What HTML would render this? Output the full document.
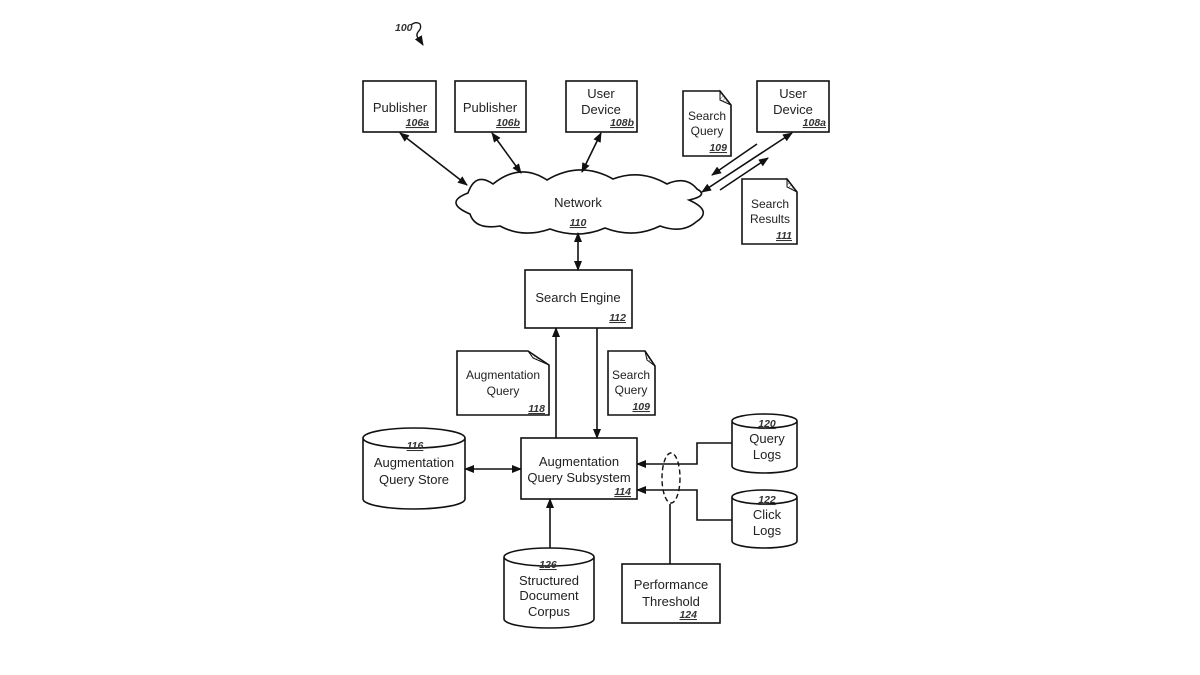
<!DOCTYPE html>
<html><head><meta charset="utf-8"><style>
html,body{margin:0;padding:0;background:#fff;}
svg{display:block;}
text{font-family:"Liberation Sans",Arial,sans-serif;fill:#222;}
.t{font-size:13px;text-anchor:middle;}
.s{font-size:12px;text-anchor:middle;}
.n{font-size:10.5px;font-style:italic;font-weight:bold;text-decoration:underline;fill:#333;}
</style></head><body>
<svg width="1200" height="675" viewBox="0 0 1200 675" xmlns="http://www.w3.org/2000/svg">
<defs>
<marker id="a" markerUnits="userSpaceOnUse" markerWidth="10" markerHeight="8" refX="9" refY="4" orient="auto-start-reverse">
<path d="M0,0 L10,4 L0,8 Z" fill="#111"/>
</marker>
<pattern id="h" patternUnits="userSpaceOnUse" width="3" height="3" patternTransform="rotate(45)">
<line x1="0" y1="0" x2="0" y2="3" stroke="#555" stroke-width="1"/>
</pattern>
</defs>
<g fill="none" stroke="#111" stroke-width="1.6">
<!-- 100 squiggle -->
<path d="M411,25 Q416,21 420,24 Q422,28 418,32 Q415,36 420,40 L423,45" stroke-width="1.3" marker-end="url(#a)"/>
<!-- top boxes -->
<rect x="363" y="81" width="73" height="51"/>
<rect x="455" y="81" width="71" height="51"/>
<rect x="566" y="81" width="71" height="51"/>
<rect x="757" y="81" width="72" height="51"/>
<!-- docs -->
<path d="M683,91 L720,91 L731,105 L731,156 L683,156 Z"/>
<path d="M720,91 L731,105 L720,100 Z" fill="url(#h)" stroke-width="1"/>
<path d="M742,179 L787,179 L797,192 L797,244 L742,244 Z"/>
<path d="M787,179 L797,192 L787,187 Z" fill="url(#h)" stroke-width="1"/>
<path d="M457,351 L528,351 L549,365 L549,415 L457,415 Z"/>
<path d="M528,351 L549,365 L533,358 Z" fill="url(#h)" stroke-width="1"/>
<path d="M608,351 L645,351 L655,366 L655,415 L608,415 Z"/>
<path d="M645,351 L655,366 L647,360 Z" fill="url(#h)" stroke-width="1"/>
<!-- cloud -->
<path d="M468,193 Q475.5,171.5 493,184 Q520,162 547,180 Q580,160.5 613,179 Q640,168.5 667,184 Q686,175.5 697,189 Q709,195.5 689,200 Q713.5,211 696,222 Q682,234 660,226 Q633.5,239 605,228 Q578.5,239.5 550,229 Q523,238.5 500,226 Q475,230 470,214 Q443,202.5 468,193 Z"/>
<!-- top arrows -->
<line x1="400" y1="133" x2="467" y2="185" marker-start="url(#a)" marker-end="url(#a)"/>
<line x1="492" y1="133" x2="521" y2="173" marker-start="url(#a)" marker-end="url(#a)"/>
<line x1="601" y1="133" x2="582" y2="172" marker-start="url(#a)" marker-end="url(#a)"/>
<line x1="792" y1="133" x2="702" y2="192" marker-start="url(#a)" marker-end="url(#a)"/>
<line x1="757" y1="144" x2="712" y2="175" marker-end="url(#a)"/>
<line x1="720" y1="190" x2="768" y2="158" marker-end="url(#a)"/>
<!-- search engine -->
<rect x="525" y="270" width="107" height="58"/>
<line x1="578" y1="233" x2="578" y2="270" marker-start="url(#a)" marker-end="url(#a)"/>
<line x1="556" y1="438" x2="556" y2="328" marker-end="url(#a)"/>
<line x1="597" y1="328" x2="597" y2="438" marker-end="url(#a)"/>
<!-- subsystem -->
<rect x="521" y="438" width="116" height="61"/>
<line x1="465" y1="469" x2="521" y2="469" marker-start="url(#a)" marker-end="url(#a)"/>
<polyline points="732,443 697,443 697,464 637,464" marker-end="url(#a)"/>
<polyline points="732,520 697,520 697,490 637,490" marker-end="url(#a)"/>
<line x1="550" y1="548" x2="550" y2="499" marker-end="url(#a)"/>
<line x1="670" y1="504" x2="670" y2="564"/>
<ellipse cx="671" cy="478" rx="9" ry="25" stroke-dasharray="5,3" stroke-width="1.4"/>
<rect x="622" y="564" width="98" height="59"/>
<!-- cylinders -->
<path d="M363,438 A51 10 0 0 1 465,438 A51 10 0 0 1 363,438 M363,438 L363,499 A51 10 0 0 0 465,499 L465,438"/>
<path d="M732,421 A32.5 7 0 0 1 797,421 A32.5 7 0 0 1 732,421 M732,421 L732,466 A32.5 7 0 0 0 797,466 L797,421"/>
<path d="M732,497 A32.5 7 0 0 1 797,497 A32.5 7 0 0 1 732,497 M732,497 L732,541 A32.5 7 0 0 0 797,541 L797,497"/>
<path d="M504,557 A45 9 0 0 1 594,557 A45 9 0 0 1 504,557 M504,557 L504,619 A45 9 0 0 0 594,619 L594,557"/>
</g>
<!-- text -->
<text x="395" y="31" class="n" style="text-decoration:none">100</text>
<text x="400" y="112" class="t">Publisher</text>
<text x="429" y="126" class="n" text-anchor="end">106a</text>
<text x="490" y="112" class="t">Publisher</text>
<text x="520" y="126" class="n" text-anchor="end">106b</text>
<text x="601" y="98" class="t">User</text>
<text x="601" y="114" class="t">Device</text>
<text x="634" y="126" class="n" text-anchor="end">108b</text>
<text x="793" y="98" class="t">User</text>
<text x="793" y="114" class="t">Device</text>
<text x="826" y="126" class="n" text-anchor="end">108a</text>
<text x="707" y="120" class="s">Search</text>
<text x="707" y="135" class="s">Query</text>
<text x="727" y="151" class="n" text-anchor="end">109</text>
<text x="770" y="208" class="s">Search</text>
<text x="770" y="223" class="s">Results</text>
<text x="792" y="239" class="n" text-anchor="end">111</text>
<text x="578" y="207" class="t">Network</text>
<text x="578" y="226" class="n" text-anchor="middle">110</text>
<text x="578" y="302" class="t">Search Engine</text>
<text x="626" y="321" class="n" text-anchor="end">112</text>
<text x="503" y="379" class="s">Augmentation</text>
<text x="503" y="395" class="s">Query</text>
<text x="545" y="412" class="n" text-anchor="end">118</text>
<text x="631" y="379" class="s">Search</text>
<text x="631" y="394" class="s">Query</text>
<text x="650" y="410" class="n" text-anchor="end">109</text>
<text x="415" y="449" class="n" text-anchor="middle">116</text>
<text x="414" y="467" class="t">Augmentation</text>
<text x="414" y="484" class="t">Query Store</text>
<text x="579" y="466" class="t">Augmentation</text>
<text x="579" y="482" class="t">Query Subsystem</text>
<text x="631" y="495" class="n" text-anchor="end">114</text>
<text x="767" y="427" class="n" text-anchor="middle">120</text>
<text x="767" y="443" class="t">Query</text>
<text x="767" y="459" class="t">Logs</text>
<text x="767" y="503" class="n" text-anchor="middle">122</text>
<text x="767" y="519" class="t">Click</text>
<text x="767" y="535" class="t">Logs</text>
<text x="548" y="568" class="n" text-anchor="middle">126</text>
<text x="549" y="585" class="t">Structured</text>
<text x="549" y="600" class="t">Document</text>
<text x="549" y="616" class="t">Corpus</text>
<text x="671" y="589" class="t">Performance</text>
<text x="671" y="606" class="t">Threshold</text>
<text x="697" y="618" class="n" text-anchor="end">124</text>
</svg>
</body></html>
